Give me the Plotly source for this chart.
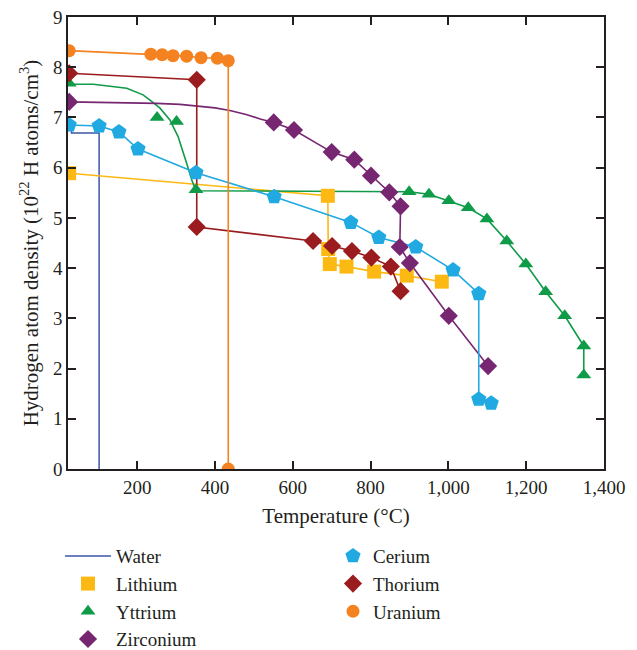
import plotly.graph_objects as go

# ---- data: temperature (°C) and hydrogen atom density (10^22 H atoms/cm^3) ----
water_T = [31, 31, 102, 102]
water_H = [6.86, 6.69, 6.69, 0.0]

lithium_T = [25, 690, 691, 695, 738, 809, 893, 983]
lithium_H = [5.89, 5.44, 4.38, 4.08, 4.03, 3.93, 3.85, 3.73]

yttrium_T = [25, 251, 301, 351, 899, 950, 1001, 1051, 1099, 1150, 1199, 1250, 1299, 1348, 1348]
yttrium_H = [7.68, 7.00, 6.92, 5.56, 5.52, 5.47, 5.34, 5.20, 4.98, 4.54, 4.08, 3.53, 3.05, 2.45, 1.87]
# fitted yttrium curve
yttrium_fit_T = [25, 87, 173, 215, 237, 258, 284, 305, 327, 340, 351, 899, 950, 1001, 1051,
                 1099, 1150, 1199, 1250, 1299, 1348, 1348]
yttrium_fit_H = [7.66, 7.66, 7.58, 7.45, 7.32, 7.19, 6.95, 6.62, 6.09, 5.76, 5.54, 5.52, 5.47,
                 5.34, 5.20, 4.98, 4.54, 4.08, 3.53, 3.05, 2.45, 1.87]

zirconium_T = [25, 551, 603, 700, 758, 801, 848, 877, 875, 901, 1001, 1102]
zirconium_H = [7.31, 6.90, 6.75, 6.31, 6.16, 5.84, 5.51, 5.23, 4.42, 4.10, 3.05, 2.05]
# fitted zirconium curve
zirconium_fit_T = [25, 150, 250, 310, 344, 400, 438, 480, 516, 551, 603, 700, 758, 801, 848,
                   877, 875, 901, 1001, 1102]
zirconium_fit_H = [7.31, 7.30, 7.28, 7.26, 7.23, 7.19, 7.14, 7.06, 6.97, 6.90, 6.75, 6.31, 6.16,
                   5.84, 5.51, 5.23, 4.42, 4.10, 3.05, 2.05]

cerium_T = [25, 102, 153, 202, 351, 552, 749, 821, 916, 1012, 1078, 1078, 1110]
cerium_H = [6.85, 6.83, 6.71, 6.37, 5.90, 5.42, 4.91, 4.61, 4.42, 3.96, 3.49, 1.39, 1.31]

thorium_T = [25, 353, 353, 652, 701, 752, 802, 852, 877]
thorium_H = [7.88, 7.75, 4.82, 4.54, 4.44, 4.34, 4.21, 4.03, 3.54]

uranium_T = [25, 235, 264, 292, 327, 364, 406, 434, 434]
uranium_H = [8.33, 8.26, 8.25, 8.23, 8.22, 8.19, 8.18, 8.13, 0.0]

x_ticks = [200, 400, 600, 800, 1000, 1200, 1400]
y_ticks = [0, 1, 2, 3, 4, 5, 6, 7, 8, 9]

FONT = "Liberation Serif"
INK = "#231f20"

series = [
    # name, marker T, marker H, line T, line H, colour, symbol, size, legend
    ("Lithium", lithium_T, lithium_H, lithium_T, lithium_H, "#fdb913", "square", 14, "legend"),
    ("Yttrium", yttrium_T, yttrium_H, yttrium_fit_T, yttrium_fit_H, "#0f9b48", "triangle-up", 13, "legend"),
    ("Zirconium", zirconium_T, zirconium_H, zirconium_fit_T, zirconium_fit_H, "#772671", "diamond", 14, "legend"),
    ("Cerium", cerium_T, cerium_H, cerium_T, cerium_H, "#21a9e1", "pentagon", 16, "legend2"),
    ("Thorium", thorium_T, thorium_H, thorium_T, thorium_H, "#9b1c1f", "diamond", 14, "legend2"),
    ("Uranium", uranium_T, uranium_H, uranium_T, uranium_H, "#f58220", "circle", 13, "legend2"),
]

fig = go.Figure()

fig.add_trace(go.Scatter(
    x=water_T, y=water_H, mode="lines", name="Water",
    line=dict(color="#3a56a6", width=1.5), legend="legend",
))

# connecting lines / fitted curves
for name, mT, mH, lT, lH, col, sym, sz, lg in series:
    fig.add_trace(go.Scatter(
        x=lT, y=lH, mode="lines", line=dict(color=col, width=1.6),
        showlegend=False, hoverinfo="skip",
    ))

# data markers
for name, mT, mH, lT, lH, col, sym, sz, lg in series:
    fig.add_trace(go.Scatter(
        x=mT, y=mH, mode="markers", name=name, legend=lg,
        marker=dict(symbol=sym, size=sz, color=col, line=dict(width=0)),
    ))

axis_common = dict(
    showline=True, linecolor=INK, linewidth=1.5, mirror="ticks",
    ticks="inside", ticklen=8, tickwidth=1.5, tickcolor=INK,
    showgrid=False, zeroline=False,
    tickfont=dict(family=FONT, size=19, color=INK),
)

legend_common = dict(
    orientation="v", y=-0.1505, xanchor="left", yanchor="top",
    font=dict(family=FONT, size=19, color=INK),
    bgcolor="rgba(0,0,0,0)", traceorder="normal",
)

fig.update_layout(
    width=637, height=650,
    margin=dict(l=68, r=33, t=17, b=181, autoexpand=False),
    plot_bgcolor="white", paper_bgcolor="white",
    font=dict(family=FONT, color=INK),
    xaxis=dict(
        range=[22, 1400], tickvals=x_ticks, tickformat=",d",
        title=dict(text="Temperature (°C)", font=dict(family=FONT, size=21, color=INK), standoff=12),
        **axis_common,
    ),
    yaxis=dict(
        range=[0, 9], tickvals=y_ticks,
        title=dict(text="Hydrogen atom density (10<sup>22</sup> H atoms/cm<sup>3</sup>)",
                   font=dict(family=FONT, size=21, color=INK), standoff=9),
        **axis_common,
    ),
    legend=dict(x=-0.0149, itemwidth=46, **legend_common),
    legend2=dict(x=0.4944, itemwidth=30, **legend_common),
)

fig.write_html("out.html")
